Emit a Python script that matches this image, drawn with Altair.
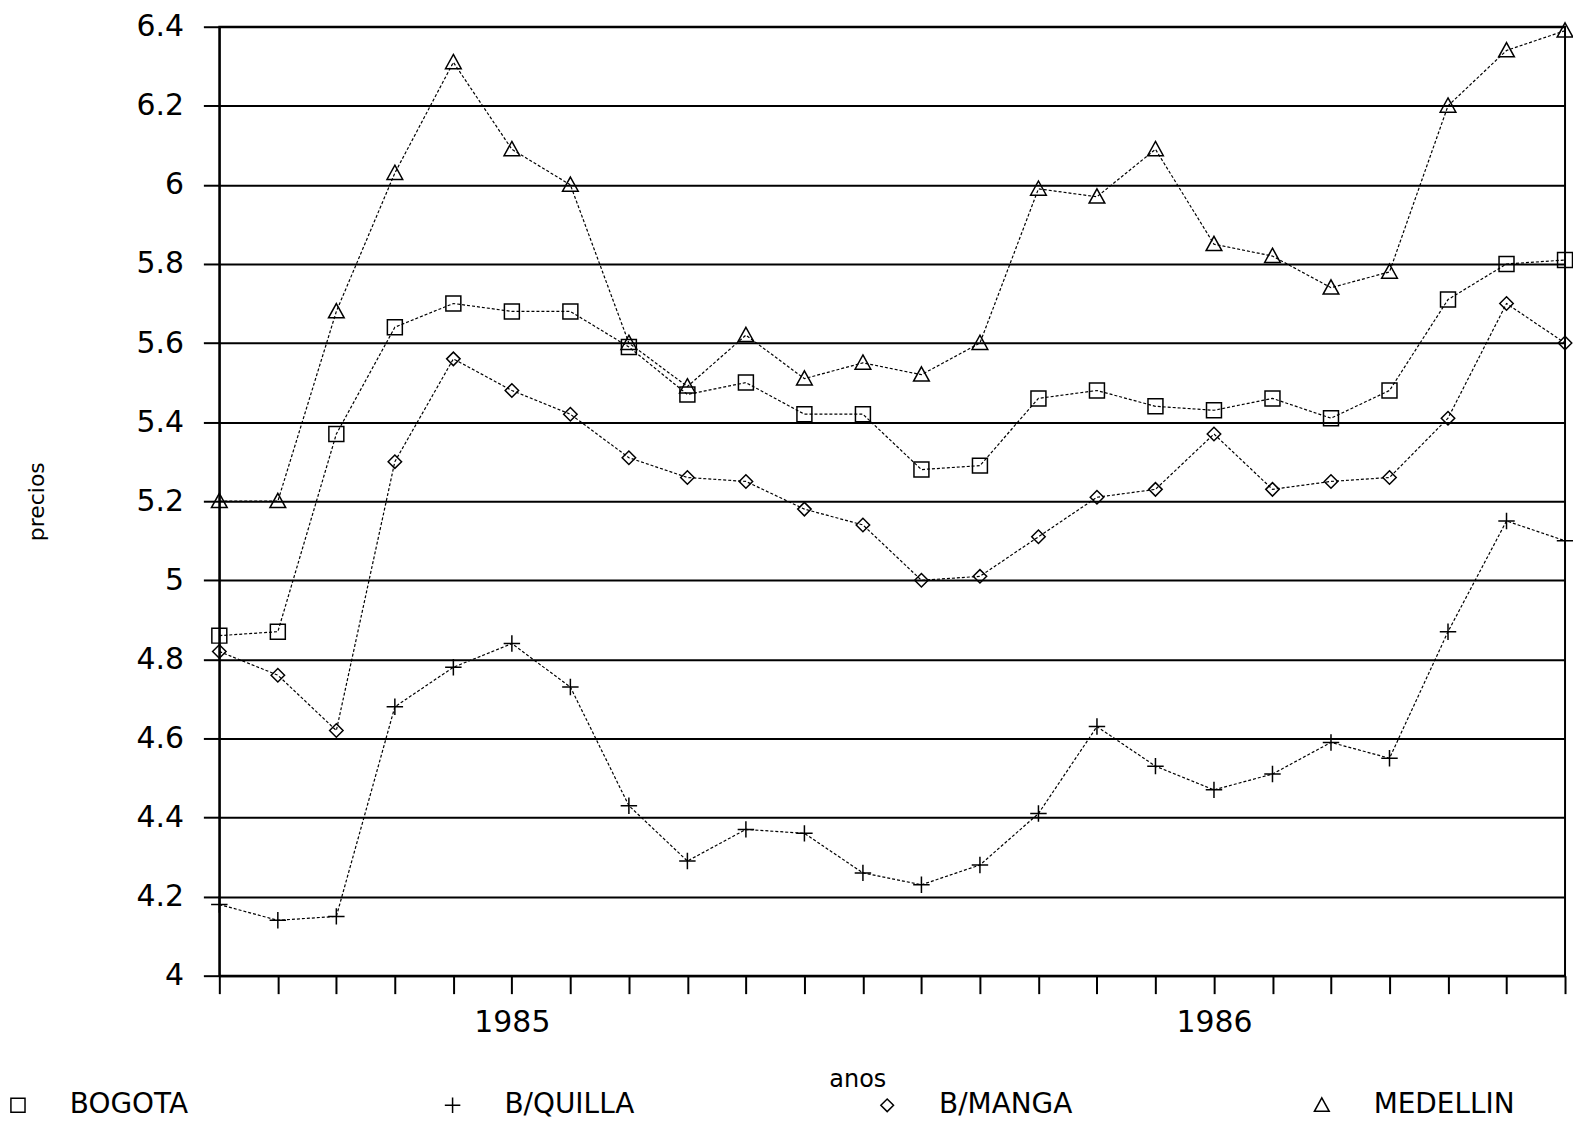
import altair as alt
import pandas as pd

SERIES = ["BOGOTA", "B/QUILLA", "B/MANGA", "MEDELLIN"]
MONTHS = list(range(24))
BOGOTA = [4.86, 4.87, 5.37, 5.64, 5.70, 5.68, 5.68, 5.59, 5.47, 5.50, 5.42, 5.42,
          5.28, 5.29, 5.46, 5.48, 5.44, 5.43, 5.46, 5.41, 5.48, 5.71, 5.80, 5.81]
BQUILLA = [4.18, 4.14, 4.15, 4.68, 4.78, 4.84, 4.73, 4.43, 4.29, 4.37, 4.36, 4.26,
           4.23, 4.28, 4.41, 4.63, 4.53, 4.47, 4.51, 4.59, 4.55, 4.87, 5.15, 5.10]
BMANGA = [4.82, 4.76, 4.62, 5.30, 5.56, 5.48, 5.42, 5.31, 5.26, 5.25, 5.18, 5.14,
          5.00, 5.01, 5.11, 5.21, 5.23, 5.37, 5.23, 5.25, 5.26, 5.41, 5.70, 5.60]
MEDELLIN = [5.20, 5.20, 5.68, 6.03, 6.31, 6.09, 6.00, 5.60, 5.49, 5.62, 5.51, 5.55,
            5.52, 5.60, 5.99, 5.97, 6.09, 5.85, 5.82, 5.74, 5.78, 6.20, 6.34, 6.39]
Y_TICKS = [4.0, 4.2, 4.4, 4.6, 4.8, 5.0, 5.2, 5.4, 5.6, 5.8, 6.0, 6.2, 6.4]
YEAR_TICKS = {5: "1985", 17: "1986"}

values = {"BOGOTA": BOGOTA, "B/QUILLA": BQUILLA, "B/MANGA": BMANGA, "MEDELLIN": MEDELLIN}
rows = []
for s in SERIES:
    for m, v in zip(MONTHS, values[s]):
        rows.append({"mes": m, "precio": v, "serie": s})
df = pd.DataFrame(rows)

label_expr = " : ".join(
    [f"datum.value == {k} ? '{v}'" for k, v in YEAR_TICKS.items()]
) + " : ''"

# marker outlines (unit box -1..1)
SQUARE = "M-1,-1L1,-1L1,1L-1,1Z"
PLUS = "M-1.1,0L1.1,0M0,-1.1L0,1.1"
DIAMOND = "M-0.9,0L0,-0.9L0.9,0L0,0.9Z"
TRIANGLE = "M0,-1.05L1.05,0.85L-1.05,0.85Z"
FONT = "DejaVu Sans"

x_enc = alt.X(
    "mes:Q",
    scale=alt.Scale(domain=[MONTHS[0], MONTHS[-1]], nice=False, zero=False),
    axis=alt.Axis(
        values=MONTHS, labelExpr=label_expr, grid=False, tickSize=18, tickWidth=2,
        tickColor="black", domainColor="black", domainWidth=2, labelFont=FONT,
        labelFontSize=30, labelColor="black", labelPadding=14, labelFlush=False,
        title="anos", titleFont=FONT, titleFontSize=24, titleFontWeight="normal",
        titleColor="black", titlePadding=30, titleX=640, titleAlign="center",
    ),
)
y_enc = alt.Y(
    "precio:Q",
    scale=alt.Scale(domain=[Y_TICKS[0], Y_TICKS[-1]], nice=False, zero=False),
    axis=alt.Axis(
        values=Y_TICKS, format=".1~f", grid=True, gridColor="black", gridWidth=2,
        gridOpacity=1, tickSize=16, tickWidth=2, tickColor="black",
        domainColor="black", domainWidth=2, labelFont=FONT, labelFontSize=30,
        labelColor="black", labelPadding=20, labelFlush=False,
        title="precios", titleFont=FONT, titleFontSize=22,
        titleFontWeight="normal", titleColor="black", titlePadding=88,
    ),
)

lines = alt.Chart(df).mark_line(
    color="black", strokeWidth=1.2, strokeDash=[3, 2]
).encode(x=x_enc, y=y_enc, detail="serie:N")

points = alt.Chart(df).mark_point(
    filled=False, color="black", strokeWidth=1.5, opacity=1, size=225
).encode(
    x="mes:Q",
    y="precio:Q",
    shape=alt.Shape(
        "serie:N",
        scale=alt.Scale(domain=SERIES, range=[SQUARE, PLUS, DIAMOND, TRIANGLE]),
        legend=alt.Legend(
            orient="none", legendX=-216, legendY=1068, direction="horizontal",
            columns=4, gridAlign="all", columnPadding=228, title=None, padding=0,
            labelFont=FONT, labelFontSize=28, labelColor="black", labelOffset=38,
            symbolSize=200, symbolStrokeColor="black", symbolFillColor="transparent",
            symbolStrokeWidth=1.5,
        ),
    ),
)

chart = alt.layer(lines, points).properties(
    width=1350,
    height=952,
    autosize=alt.AutoSizeParams(type="none"),
    padding={"left": 212, "top": 17, "right": 8, "bottom": 150},
    background="white",
).configure_view(stroke="black", strokeWidth=2)

chart.save("out.html", embed_options={"renderer": "svg", "actions": False})
